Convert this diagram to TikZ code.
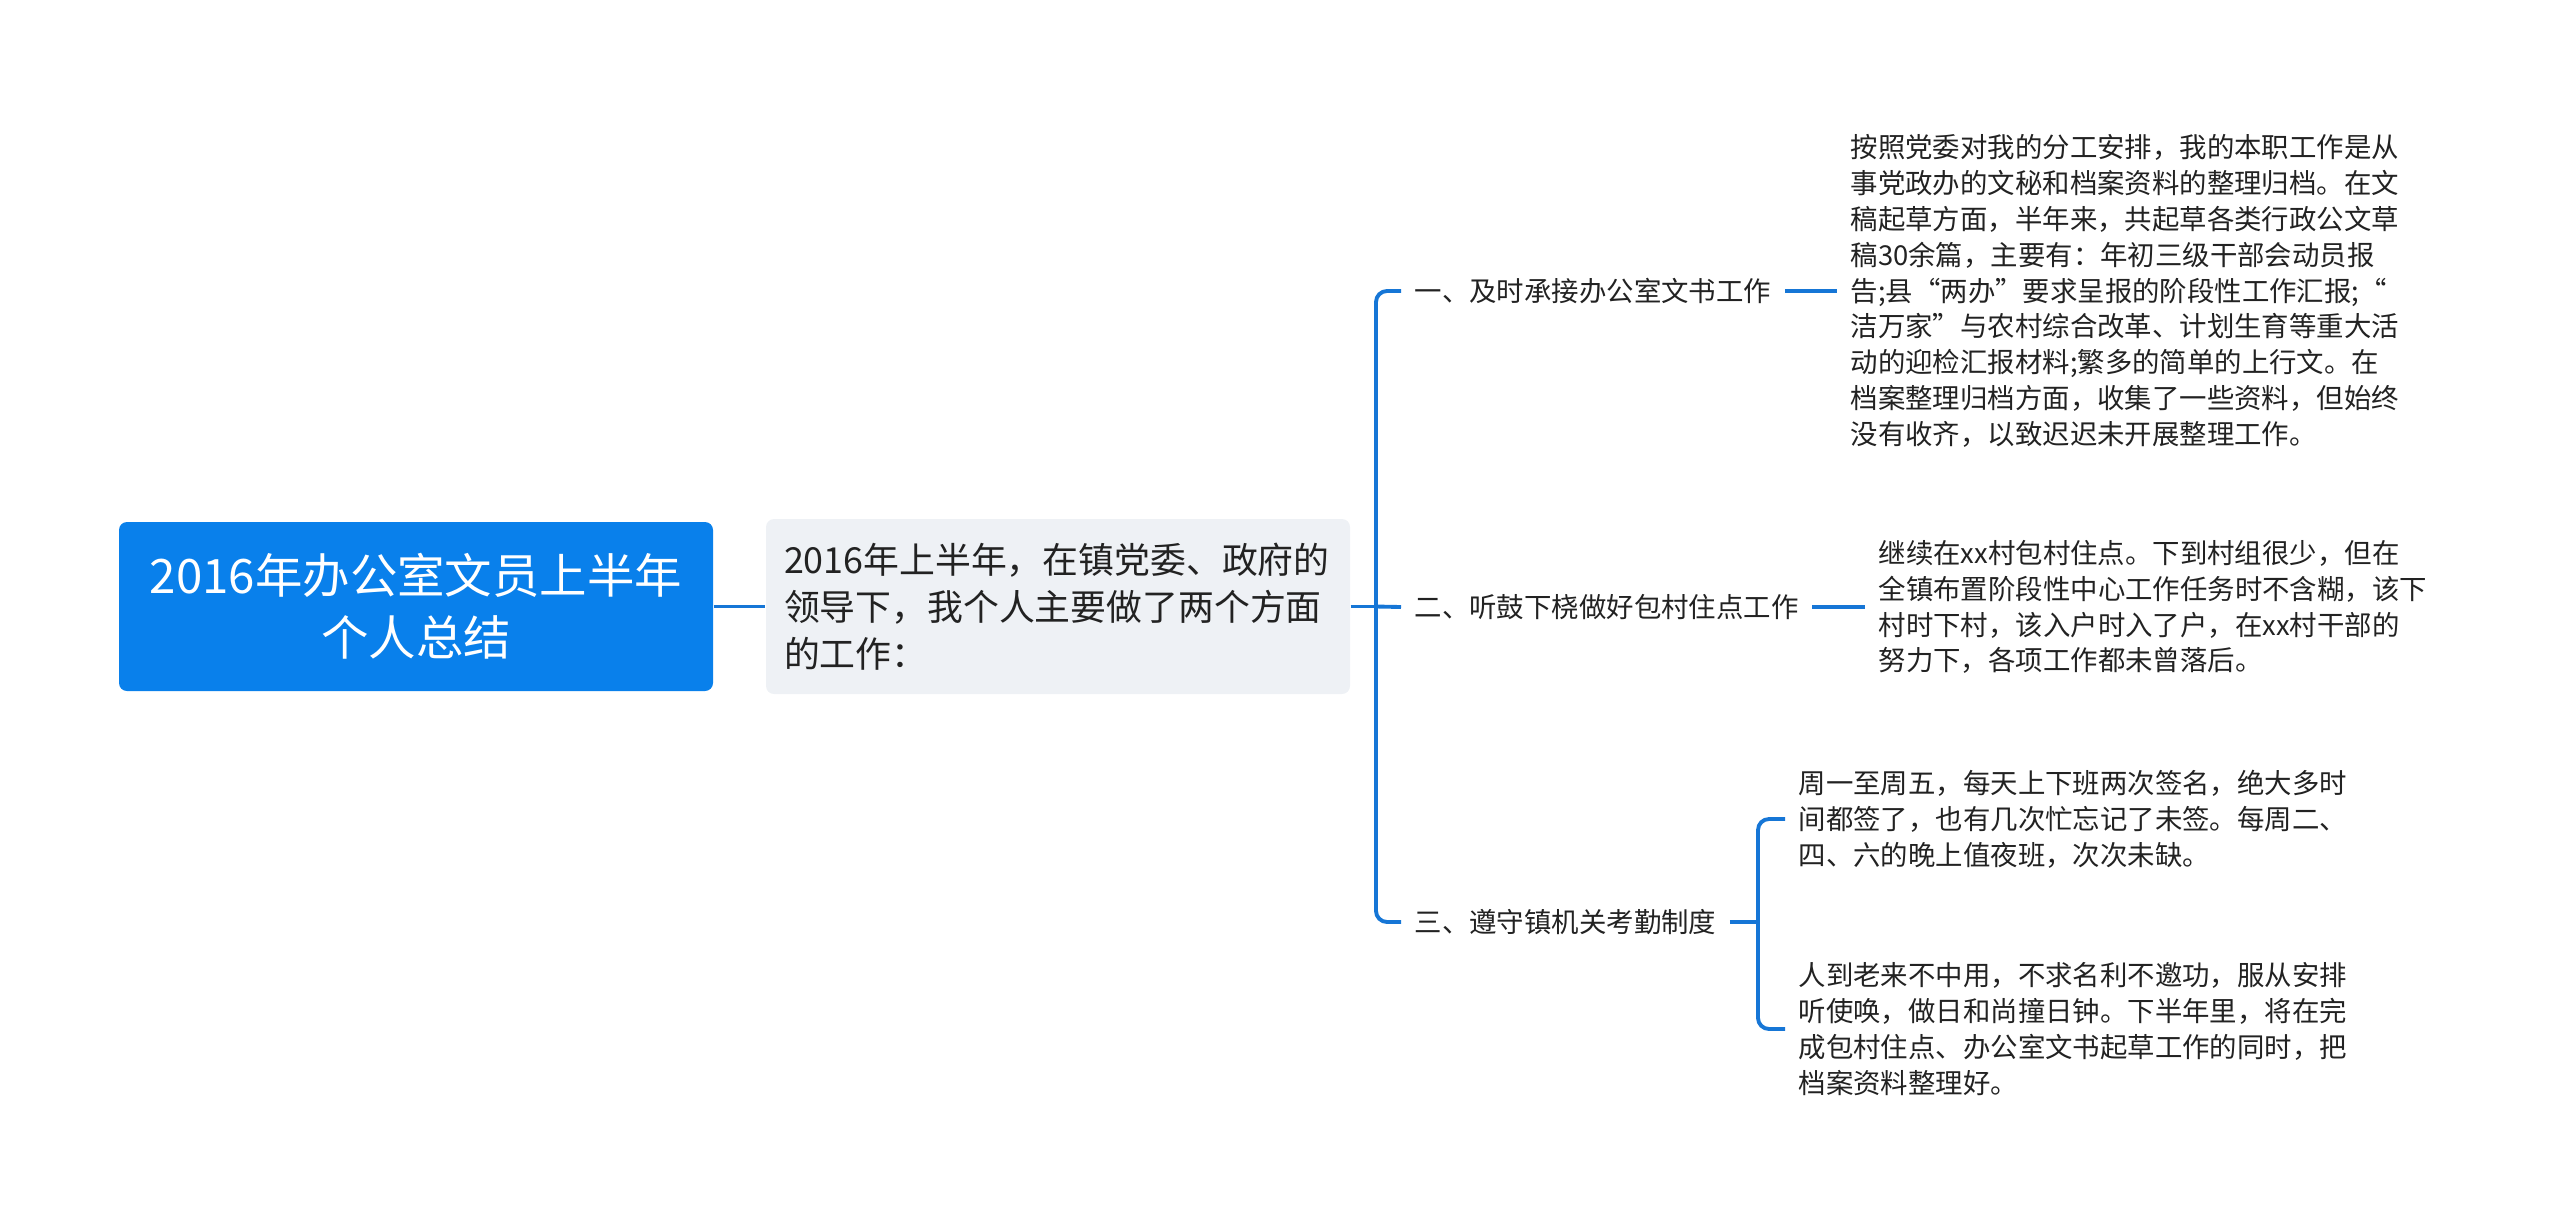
\documentclass[tikz,border=0pt]{standalone}
\usepackage{fontspec}
\setmainfont{Noto Sans CJK SC}
\usepackage{tikz}
\definecolor{rootblue}{RGB}{9, 128, 235}
\definecolor{linkblue}{RGB}{22, 118, 214}
\definecolor{paleslate}{RGB}{238, 241, 245}
\definecolor{inkgrey}{RGB}{34, 34, 34}

\begin{document}
\begin{tikzpicture}[
        rootbox/.style ={fill=rootblue, text=white, rounded corners=0.08cm, align=center,
                         minimum width=5.94cm, minimum height=1.69cm, inner sep=0pt,
                         font=\fontsize{13.5}{17.6}\selectfont},
        subbox/.style  ={fill=paleslate, text=inkgrey, rounded corners=0.08cm, align=left,
                         text width=5.48cm, inner xsep=0.18cm, minimum height=1.75cm,
                         font=\fontsize{10.2}{13.3}\selectfont},
        topic/.style   ={anchor=west, text=inkgrey, inner xsep=0.13cm, inner ysep=0pt,
                         font=\fontsize{7.8}{10.2}\selectfont},
        detail/.style  ={anchor=west, text=inkgrey, inner xsep=0.13cm, inner ysep=0pt, align=left,
                         font=\fontsize{7.8}{10.2}\selectfont},
        link/.style    ={draw=linkblue, line width=1.1pt},
        bracket/.style ={link, rounded corners=0.11cm}
    ]
    \useasboundingbox (0,0) rectangle (25.60,-12.29);

    \node[rootbox] (root)  at ( 4.16,-6.065) {2016年办公室文员上半年\\个人总结};
    \node[subbox]  (intro) at (10.58,-6.065) {2016年上半年，在镇党委、政府的\\领导下，我个人主要做了两个方面\\的工作：};

    \node[topic] (duty)    at (14.01,-2.91) {一、及时承接办公室文书工作};
    \node[topic] (village) at (14.01,-6.07) {二、听鼓下桡做好包村住点工作};
    \node[topic] (rules)   at (14.01,-9.22) {三、遵守镇机关考勤制度};

    \node[detail] (dutytext) at (18.37,-2.91) {按照党委对我的分工安排，我的本职工作是从\\事党政办的文秘和档案资料的整理归档。在文\\稿起草方面，半年来，共起草各类行政公文草\\稿30余篇，主要有：年初三级干部会动员报\\告;县“两办”要求呈报的阶段性工作汇报;“\\洁万家”与农村综合改革、计划生育等重大活\\动的迎检汇报材料;繁多的简单的上行文。在\\档案整理归档方面，收集了一些资料，但始终\\没有收齐，以致迟迟未开展整理工作。};
    \node[detail] (villagetext) at (18.65,-6.07) {继续在xx村包村住点。下到村组很少，但在\\全镇布置阶段性中心工作任务时不含糊，该下\\村时下村，该入户时入了户，在xx村干部的\\努力下，各项工作都未曾落后。};
    \node[detail] (signtext) at (17.85,-8.19) {周一至周五，每天上下班两次签名，绝大多时\\间都签了，也有几次忙忘记了未签。每周二、\\四、六的晚上值夜班，次次未缺。};
    \node[detail] (resolvetext) at (17.85,-10.29) {人到老来不中用，不求名利不邀功，服从安排\\听使唤，做日和尚撞日钟。下半年里，将在完\\成包村住点、办公室文书起草工作的同时，把\\档案资料整理好。};

    \coordinate (fork)  at (13.76,-6.065);
    \coordinate (fork3) at (17.58,-9.22);

    \draw[link] (root.east) -- (intro.west);
    \draw[link] (intro.east) -- (fork);
    \draw[bracket] (duty.west) -| (fork) |- (rules.west);
    \draw[link] (fork) -- (village.west);

    \draw[link] (duty.east) -- (dutytext.west);
    \draw[link] (village.east) -- (villagetext.west);
    \draw[link] (rules.east) -- (fork3);
    \draw[bracket] (signtext.west) -| (fork3) |- (resolvetext.west);
\end{tikzpicture}
\end{document}
